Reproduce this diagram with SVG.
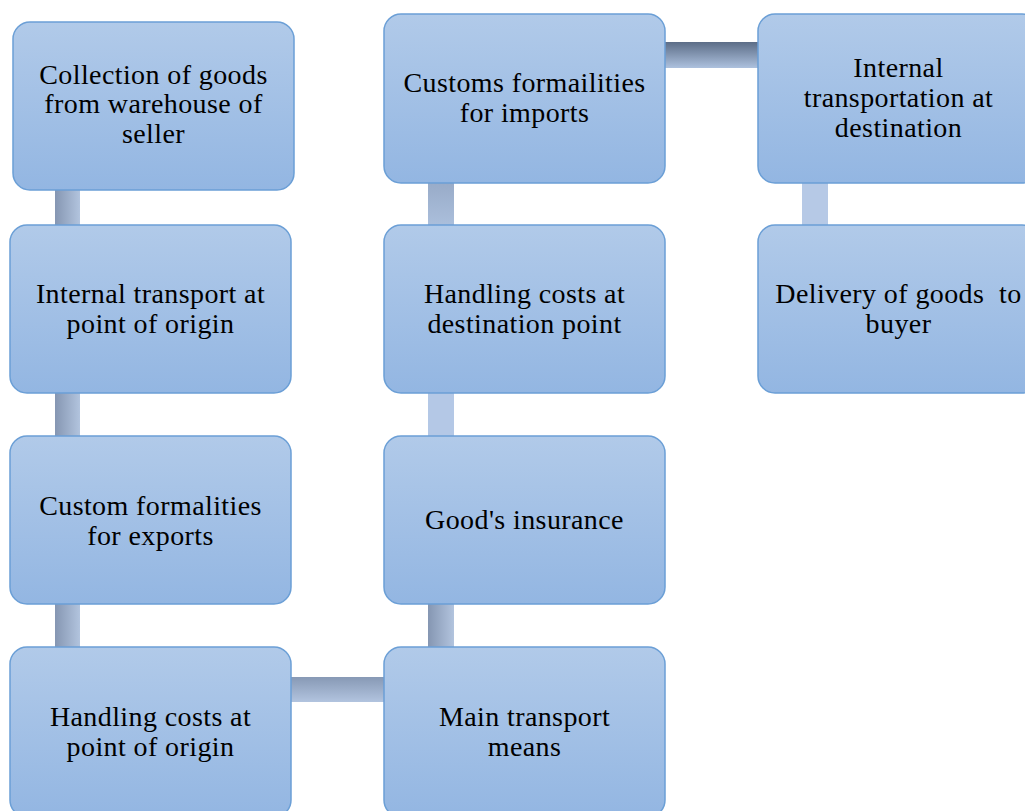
<svg xmlns="http://www.w3.org/2000/svg" width="1025" height="811" viewBox="0 0 1025 811">
<defs>
<linearGradient id="boxFill" x1="0" y1="0" x2="0" y2="1">
<stop offset="0" stop-color="#b1cae9"/>
<stop offset="1" stop-color="#93b6e2"/>
</linearGradient>
<linearGradient id="vBar" x1="0" y1="0" x2="1" y2="0">
<stop offset="0" stop-color="#8596b2"/>
<stop offset="1" stop-color="#b2c4de"/>
</linearGradient>
<linearGradient id="hBar" x1="0" y1="0" x2="0" y2="1">
<stop offset="0" stop-color="#8799b5"/>
<stop offset="1" stop-color="#b2c4df"/>
</linearGradient>
<linearGradient id="hBarDark" x1="0" y1="0" x2="0" y2="1">
<stop offset="0" stop-color="#5c6d87"/>
<stop offset="1" stop-color="#adc1de"/>
</linearGradient>
<linearGradient id="vBarSoft" x1="0" y1="0" x2="0" y2="1">
<stop offset="0" stop-color="#98abc8"/>
<stop offset="1" stop-color="#abbfdc"/>
</linearGradient>
</defs>
<style>
.box{fill:url(#boxFill);stroke:#6b9fd6;stroke-width:1.5}
.t{font-family:"Liberation Serif","Times New Roman",serif;font-size:28px;letter-spacing:0.4px;fill:#000;text-anchor:middle;white-space:pre}
</style>
<g id="connectors">
<rect x="55" y="189" width="25" height="37" fill="url(#vBar)"/>
<rect x="55" y="392" width="25" height="45" fill="url(#vBar)"/>
<rect x="55" y="603" width="25" height="45" fill="url(#vBar)"/>
<rect x="290" y="677" width="95" height="25" fill="url(#hBar)"/>
<rect x="428" y="603" width="26" height="45" fill="url(#vBar)"/>
<rect x="428" y="392" width="26" height="45" fill="#b4c8e6"/>
<rect x="428" y="182" width="26" height="44" fill="url(#vBarSoft)"/>
<rect x="664" y="42" width="95" height="26" fill="url(#hBarDark)"/>
<rect x="802" y="182" width="26" height="44" fill="#b6c9e6"/>
</g>
<g id="n1"><rect class="box" x="13" y="22" width="281" height="168" rx="17"/>
<text class="t" x="153.5" y="84">Collection of goods</text>
<text class="t" x="153.5" y="113">from warehouse of</text>
<text class="t" x="153.5" y="143">seller</text></g>
<g id="n2"><rect class="box" x="10" y="225" width="281" height="168" rx="17"/>
<text class="t" x="150.5" y="303">Internal transport at</text>
<text class="t" x="150.5" y="333">point of origin</text></g>
<g id="n3"><rect class="box" x="10" y="436" width="281" height="168" rx="17"/>
<text class="t" x="150.5" y="515">Custom formalities</text>
<text class="t" x="150.5" y="545">for exports</text></g>
<g id="n4"><rect class="box" x="10" y="647" width="281" height="170" rx="17"/>
<text class="t" x="150.5" y="726">Handling costs at</text>
<text class="t" x="150.5" y="756">point of origin</text></g>
<g id="n5"><rect class="box" x="384" y="647" width="281" height="170" rx="17"/>
<text class="t" x="524.5" y="726">Main transport</text>
<text class="t" x="524.5" y="756">means</text></g>
<g id="n6"><rect class="box" x="384" y="436" width="281" height="168" rx="17"/>
<text class="t" x="524.5" y="529">Good's insurance</text></g>
<g id="n7"><rect class="box" x="384" y="225" width="281" height="168" rx="17"/>
<text class="t" x="524.5" y="303">Handling costs at</text>
<text class="t" x="524.5" y="333">destination point</text></g>
<g id="n8"><rect class="box" x="384" y="14" width="281" height="169" rx="17"/>
<text class="t" x="524.5" y="92">Customs formailities</text>
<text class="t" x="524.5" y="122">for imports</text></g>
<g id="n9"><rect class="box" x="758" y="14" width="281" height="169" rx="17"/>
<text class="t" x="898.5" y="77">Internal</text>
<text class="t" x="898.5" y="107">transportation at</text>
<text class="t" x="898.5" y="137">destination</text></g>
<g id="n10"><rect class="box" x="758" y="225" width="281" height="168" rx="17"/>
<text class="t" x="898.5" y="303">Delivery of goods  to</text>
<text class="t" x="898.5" y="333">buyer</text></g>
</svg>
